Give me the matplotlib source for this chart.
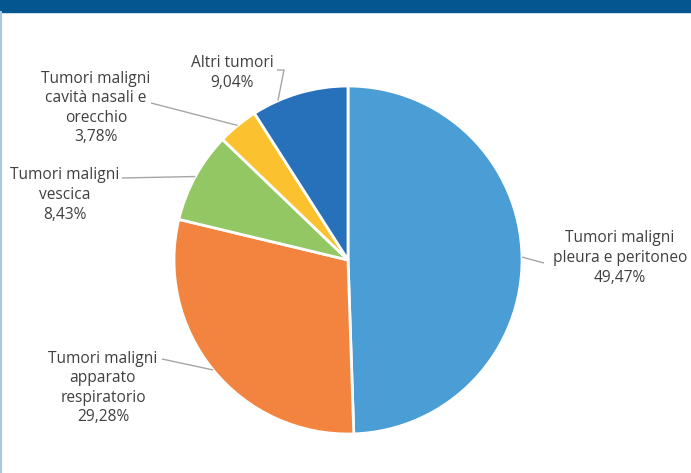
import numpy as np
import matplotlib.pyplot as plt
from matplotlib.patches import Rectangle

labels = ['Tumori maligni\npleura e peritoneo', 'Tumori maligni\napparato\nrespiratorio',
          'Tumori maligni\nvescica', 'Tumori maligni\ncavità nasali e\norecchio', 'Altri tumori']
values = [49.47, 29.28, 8.43, 3.78, 9.04]
colors = ['#4A9ED5', '#F2843F', '#93C763', '#FBC12F', '#2771BB']
# label anchor positions (px) and where the leader line ends near the label
label_pos = [(620, 258), (103, 388), (65, 195), (96, 108), (232, 73)]
leader_end = [(544, 263), (162, 359), (122, 178), (151, 103), [(277, 70), (284, 70)]]
anchor_frac = [0.5, 0.5, 0.5, 0.5, 0.27]

plt.rcParams['font.family'] = ['Open Sans', 'DejaVu Sans']

W, H = 691, 473
fig = plt.figure(figsize=(W / 100, H / 100), dpi=100)
ax = fig.add_axes([0, 0, 1, 1])

cx, cy, r = 348, 260, 174
# y axis is inverted (pixel coords), so start at -90 and go counterclockwise in data
# to get a visual start at 12 o'clock going clockwise
ax.pie(values, colors=colors, startangle=-90, counterclock=True, center=(cx, cy), radius=r,
       wedgeprops=dict(edgecolor='white', linewidth=2), frame=True)
ax.set_xlim(0, W)
ax.set_ylim(H, 0)
ax.set_aspect('equal')
ax.axis('off')

cum = np.cumsum([0] + values[:-1])
for i, (lab, v) in enumerate(zip(labels, values)):
    frac = (cum[i] + anchor_frac[i] * v) / 100.0
    ang = np.deg2rad(90 - 360 * frac)
    px = cx + r * np.cos(ang)
    py = cy - r * np.sin(ang)
    pct = f'{v:.2f}%'.replace('.', ',')
    ax.text(label_pos[i][0], label_pos[i][1], lab + '\n' + pct, ha='center', va='center',
            fontsize=11.2, color='#404040', linespacing=1.3)
    ends = leader_end[i] if isinstance(leader_end[i], list) else [leader_end[i]]
    xs = [e[0] for e in ends] + [px]
    ys = [e[1] for e in ends] + [py]
    ax.plot(xs, ys, color='#A6A6A6', lw=1.0, solid_capstyle='butt')

ax.add_patch(Rectangle((0, 0), W, 12, color='#03568F', clip_on=False))
ax.plot([1.5, 1.5], [12, H], color='#A9C9E2', lw=1.5)

fig.savefig('out.png', dpi=100)
